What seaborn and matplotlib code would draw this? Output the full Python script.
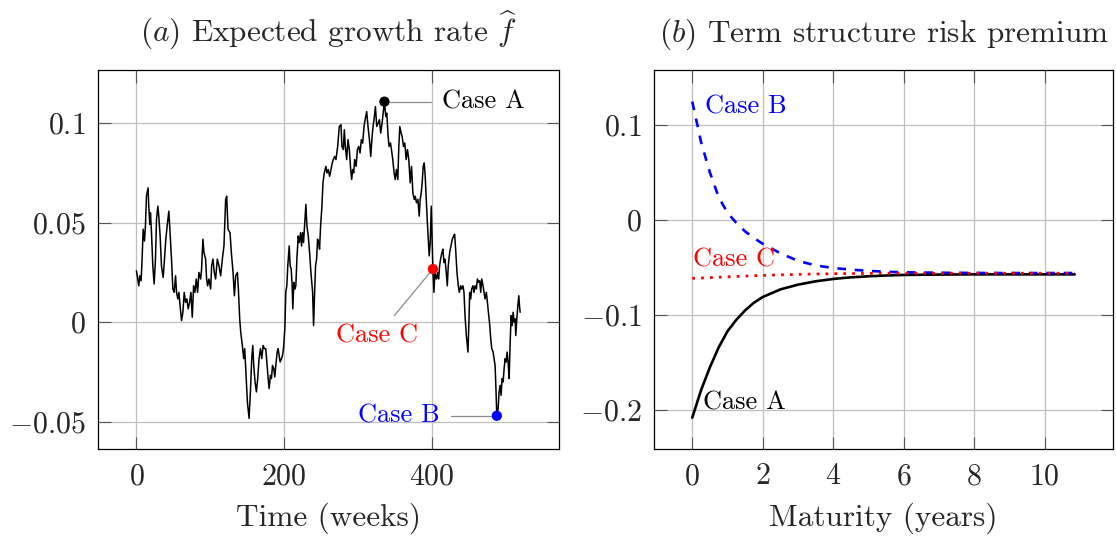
import numpy as np
import pandas as pd
import matplotlib
matplotlib.use("Agg")
import matplotlib.pyplot as plt
import seaborn as sns

# ---------------- data ----------------
weeks = [0.0, 3.2, 4.5, 6.3, 7.7, 9.1, 10.9, 12.2, 13.6, 15.8, 16.7, 18.1, 19.0, 20.4, 22.2, 24.0,
         25.8, 27.2, 29.0, 30.3, 32.1, 33.9, 36.2, 38.0, 39.8, 41.6, 43.9, 45.3, 47.5, 49.3, 51.1,
         53.0, 54.3, 56.1, 57.5, 59.3, 61.1, 62.9, 64.7, 66.5, 68.3, 70.1, 72.0, 73.8, 75.6, 77.4,
         79.2, 81.0, 82.8, 84.6, 86.9, 88.2, 90.0, 91.4, 93.7, 95.0, 96.4, 98.2, 100.5, 101.8,
         103.6, 105.4, 107.2, 109.5, 111.8, 114.0, 116.3, 118.5, 120.8, 122.2, 124.0, 126.7,
         128.5, 130.8, 132.6, 134.4, 136.7, 138.0, 139.8, 141.2, 143.4, 145.2, 146.6, 148.4,
         150.2, 152.5, 154.3, 156.1, 157.5, 158.8, 160.6, 162.4, 164.2, 166.0, 167.9, 169.7,
         171.5, 173.3, 175.1, 176.9, 178.3, 179.6, 181.4, 182.8, 184.2, 185.9, 187.3, 188.7,
         190.5, 191.8, 193.2, 194.5, 196.4, 197.7, 199.1, 200.9, 202.2, 203.6, 204.9, 206.8,
         208.1, 209.5, 210.8, 211.7, 213.1, 214.4, 215.8, 217.2, 219.0, 220.4, 222.2, 223.5,
         224.9, 226.2, 227.6, 229.4, 230.8, 232.6, 234.4, 236.2, 238.5, 239.8, 241.2, 242.5,
         243.9, 245.2, 246.6, 247.9, 249.3, 251.1, 252.5, 254.3, 256.5, 257.9, 259.7, 261.5,
         263.3, 265.1, 266.5, 268.3, 270.1, 272.4, 274.6, 276.9, 278.2, 280.1, 281.4, 282.8,
         284.6, 286.4, 288.2, 290.0, 291.4, 292.7, 294.1, 295.4, 297.3, 299.1, 300.9, 302.7,
         304.5, 306.3, 308.1, 309.9, 311.7, 313.5, 315.4, 317.2, 319.0, 320.3, 322.1, 323.5,
         325.3, 327.1, 328.9, 330.7, 332.5, 334.4, 335.7, 337.5, 338.9, 340.7, 342.0, 343.9,
         345.2, 347.0, 348.8, 350.2, 352.0, 353.8, 355.2, 356.5, 358.3, 359.7, 361.5, 363.3,
         365.1, 366.9, 368.7, 370.6, 372.4, 374.2, 376.0, 377.3, 379.2, 381.0, 382.8, 384.1,
         385.5, 386.8, 388.2, 389.6, 390.9, 392.3, 393.6, 395.0, 396.3, 397.7, 399.1, 400.0,
         401.3, 402.7, 404.0, 405.9, 407.7, 409.0, 410.4, 411.7, 413.5, 414.9, 416.3, 417.6,
         419.4, 420.8, 422.1, 424.0, 425.8, 427.6, 429.4, 430.7, 432.1, 433.9, 435.7, 437.1,
         438.9, 440.2, 442.0, 443.4, 444.8, 446.6, 448.8, 450.2, 451.1, 452.5, 453.8, 455.6,
         457.0, 458.3, 460.2, 461.5, 463.3, 464.7, 466.0, 467.4, 469.2, 470.6, 471.9, 473.7,
         475.1, 476.4, 478.3, 479.6, 481.0, 482.8, 484.1, 485.5, 486.8, 487.8, 489.6, 490.9,
         492.3, 493.6, 495.0, 496.4, 497.7, 499.1, 500.4, 501.8, 503.1, 504.5, 505.9, 507.2,
         508.6, 509.9, 511.3, 512.6, 513.5, 514.9, 516.3, 517.6, 518.5, 519.4]

growth = [0.0258, 0.0183, 0.0233, 0.0208, 0.0317, 0.0467, 0.0408, 0.0483, 0.0633, 0.0675, 0.0583,
          0.0492, 0.0550, 0.0450, 0.0283, 0.0192, 0.0317, 0.0517, 0.0583, 0.0533, 0.0433, 0.0283,
          0.0225, 0.0317, 0.0417, 0.0483, 0.0558, 0.0467, 0.0317, 0.0167, 0.0150, 0.0233, 0.0150,
          0.0117, 0.0150, 0.0075, 0.0008, 0.0050, 0.0150, 0.0100, 0.0117, 0.0067, 0.0100, 0.0150,
          0.0025, 0.0183, 0.0150, 0.0217, 0.0150, 0.0250, 0.0217, 0.0267, 0.0417, 0.0350, 0.0317,
          0.0217, 0.0183, 0.0217, 0.0167, 0.0283, 0.0317, 0.0250, 0.0217, 0.0317, 0.0283, 0.0233,
          0.0317, 0.0383, 0.0617, 0.0633, 0.0467, 0.0450, 0.0350, 0.0250, 0.0133, 0.0233, 0.0250,
          0.0167, 0.0017, -0.0050, -0.0117, -0.0183, -0.0133, -0.0267, -0.0400, -0.0483, -0.0350,
          -0.0183, -0.0117, -0.0217, -0.0300, -0.0350, -0.0283, -0.0183, -0.0133, -0.0183,
          -0.0117, -0.0133, -0.0133, -0.0217, -0.0283, -0.0333, -0.0267, -0.0283, -0.0217,
          -0.0233, -0.0275, -0.0217, -0.0150, -0.0133, -0.0167, -0.0200, -0.0183, -0.0167,
          -0.0133, -0.0033, 0.0150, 0.0183, 0.0283, 0.0383, 0.0283, 0.0267, 0.0183, 0.0067,
          0.0200, 0.0167, 0.0183, 0.0317, 0.0433, 0.0400, 0.0450, 0.0383, 0.0450, 0.0400, 0.0483,
          0.0592, 0.0483, 0.0433, 0.0350, 0.0250, 0.0150, -0.0017, 0.0150, 0.0283, 0.0317, 0.0417,
          0.0400, 0.0367, 0.0483, 0.0583, 0.0700, 0.0750, 0.0783, 0.0750, 0.0767, 0.0733, 0.0767,
          0.0800, 0.0817, 0.0833, 0.0817, 0.0883, 0.0983, 0.0992, 0.0883, 0.0867, 0.0967, 0.0883,
          0.0817, 0.0917, 0.0867, 0.0767, 0.0717, 0.0767, 0.0750, 0.0817, 0.0783, 0.0867, 0.0883,
          0.0850, 0.0917, 0.0900, 0.0983, 0.1025, 0.1058, 0.0983, 0.0917, 0.0833, 0.0933, 0.0983,
          0.1033, 0.1083, 0.0983, 0.1000, 0.1017, 0.0950, 0.1000, 0.1067, 0.1108, 0.1033, 0.1050,
          0.0933, 0.0883, 0.0900, 0.0867, 0.0817, 0.0750, 0.0717, 0.0767, 0.0717, 0.0883, 0.0983,
          0.0950, 0.0933, 0.0883, 0.0900, 0.0817, 0.0867, 0.0817, 0.0700, 0.0783, 0.0650, 0.0617,
          0.0633, 0.0600, 0.0617, 0.0533, 0.0617, 0.0650, 0.0700, 0.0783, 0.0800, 0.0733, 0.0617,
          0.0517, 0.0417, 0.0333, 0.0400, 0.0583, 0.0450, 0.0267, 0.0150, 0.0250, 0.0217, 0.0250,
          0.0217, 0.0283, 0.0317, 0.0350, 0.0367, 0.0300, 0.0317, 0.0250, 0.0183, 0.0283, 0.0350,
          0.0383, 0.0417, 0.0433, 0.0442, 0.0367, 0.0250, 0.0183, 0.0150, 0.0183, 0.0167, 0.0183,
          0.0150, 0.0033, -0.0067, -0.0150, 0.0017, 0.0150, 0.0117, 0.0167, 0.0183, 0.0150, 0.0183,
          0.0167, 0.0217, 0.0200, 0.0208, 0.0150, 0.0217, 0.0183, 0.0150, 0.0117, 0.0150, 0.0100,
          0.0050, -0.0017, -0.0083, -0.0133, -0.0150, -0.0183, -0.0217, -0.0350, -0.0470, -0.0433,
          -0.0350, -0.0317, -0.0367, -0.0283, -0.0300, -0.0233, -0.0183, -0.0200, -0.0150,
          -0.0200, -0.0283, -0.0100, 0.0033, -0.0017, 0.0050, 0.0000, 0.0017, -0.0067, 0.0017,
          0.0083, 0.0133, 0.0083, 0.0050]

case_names = ["Case A", "Case B", "Case C"]
case_weeks = [335.7, 487.8, 401.3]
case_colors = ["black", "blue", "red"]

maturity = [0, 0.25, 0.5, 0.75, 1, 1.25, 1.5, 1.75, 2, 2.5, 3, 3.5, 4, 4.5, 5, 5.5, 6, 7, 8, 9,
            10, 10.85]
premium_a = [-0.208, -0.179, -0.155, -0.134, -0.117, -0.105, -0.095, -0.087, -0.081, -0.073,
             -0.068, -0.0645, -0.062, -0.0603, -0.0592, -0.0584, -0.0578, -0.0574, -0.0572,
             -0.0572, -0.0572, -0.0572]
premium_b = [0.1246, 0.082, 0.050, 0.024, 0.0075, -0.003, -0.012, -0.019, -0.025, -0.035, -0.043,
             -0.0478, -0.0505, -0.0522, -0.0535, -0.0545, -0.0550, -0.0555, -0.0557, -0.0558,
             -0.0558, -0.0558]
premium_c = [-0.0614, -0.0610, -0.0606, -0.0602, -0.0598, -0.0594, -0.0590, -0.0586, -0.0583,
             -0.0577, -0.0572, -0.0568, -0.0565, -0.0563, -0.0562, -0.0561, -0.0561, -0.0560,
             -0.0560, -0.0560, -0.0560, -0.0560]

left_xticks = [0, 200, 400]
left_yticks = [-0.05, 0, 0.05, 0.1]
left_yticklabels = ["$-0.05$", "$0$", "$0.05$", "$0.1$"]
right_xticks = [0, 2, 4, 6, 8, 10]
right_yticks = [-0.2, -0.1, 0, 0.1]
right_yticklabels = ["$-0.2$", "$-0.1$", "$0$", "$0.1$"]

# ---------------- style ----------------
sns.set_theme(style="white")
plt.rcParams.update({
    "font.family": ["cmr10", "DejaVu Serif"],
    "mathtext.fontset": "cm",
    "axes.formatter.use_mathtext": True,
    "axes.unicode_minus": True,
    "axes.edgecolor": "black",
    "axes.linewidth": 0.9,
})

FS_TICK = 21.5
FS = 22.5
FS_ANN = 19
GRID = "#bfbfbf"

fig = plt.figure(figsize=(11.16, 5.36), dpi=100)
ax1 = fig.add_axes([98 / 1116, 1 - 449 / 536, (559 - 98) / 1116, (449 - 70) / 536])
ax2 = fig.add_axes([654 / 1116, 1 - 449 / 536, (1113 - 654) / 1116, (449 - 70) / 536])


def style_axes(ax):
    ax.grid(True, color=GRID, linewidth=0.9)
    ax.set_axisbelow(True)
    ax.tick_params(direction="in", length=9, width=0.8, color="#555555",
                   top=True, right=True, bottom=True, left=True,
                   labelsize=FS_TICK, pad=9)
    ax.tick_params(axis="x", pad=10)
    for s in ax.spines.values():
        s.set_color("black")
        s.set_linewidth(0.9)
        s.set_visible(True)


# ---------------- panel (a) ----------------
df_a = pd.DataFrame({"week": weeks, "growth": growth})
sns.lineplot(data=df_a, x="week", y="growth", ax=ax1, color="black", linewidth=1.1,
             estimator=None, sort=False)

case_vals = [growth[weeks.index(w)] for w in case_weeks]
df_cases = pd.DataFrame({"week": case_weeks, "growth": case_vals, "case": case_names})

# connector lines
ax1.plot([case_weeks[0], 399], [case_vals[0], case_vals[0]], color="#8c8c8c", lw=0.9, zorder=3)
ax1.plot([426, case_weeks[1]], [case_vals[1], case_vals[1]], color="#8c8c8c", lw=0.9, zorder=3)
ax1.plot([349, case_weeks[2]], [0.0033, case_vals[2]], color="#8c8c8c", lw=0.9, zorder=3)

sns.scatterplot(data=df_cases, x="week", y="growth", hue="case",
                palette=dict(zip(case_names, case_colors)),
                s=55, linewidth=0, ax=ax1, legend=False, zorder=5)

ax1.text(414, case_vals[0], "Case A", color="black", fontsize=FS_ANN, va="center", ha="left")
ax1.text(410, case_vals[1], "Case B", color="blue", fontsize=FS_ANN, va="center", ha="right")
ax1.text(326, -0.0067, "Case C", color="red", fontsize=FS_ANN, va="center", ha="center")

style_axes(ax1)
ax1.set_xlim(-52, 572)
ax1.set_ylim(-0.0637, 0.1267)
ax1.set_xticks(left_xticks)
ax1.set_xticklabels([f"${t}$" for t in left_xticks])
ax1.set_yticks(left_yticks)
ax1.set_yticklabels(left_yticklabels)
ax1.set_xlabel("Time (weeks)", fontsize=FS, labelpad=9)
ax1.set_ylabel("")
ax1.set_title(r"$(a)$ Expected growth rate $\widehat{f}$", fontsize=FS, pad=20)

# ---------------- panel (b) ----------------
df_b = pd.DataFrame({"maturity": maturity, "A": premium_a, "B": premium_b, "C": premium_c})
sns.lineplot(data=df_b, x="maturity", y="A", ax=ax2, color="black", linewidth=1.9,
             estimator=None)
sns.lineplot(data=df_b, x="maturity", y="B", ax=ax2, color="blue", linewidth=1.9,
             estimator=None, linestyle=(0, (3.3, 3.3)))
sns.lineplot(data=df_b, x="maturity", y="C", ax=ax2, color="red", linewidth=2.0,
             estimator=None, linestyle=(0, (1.0, 2.2)))

ax2.text(0.36, 0.1195, "Case B", color="blue", fontsize=FS_ANN, va="center", ha="left")
ax2.text(0.02, -0.042, "Case C", color="red", fontsize=FS_ANN, va="center", ha="left")
ax2.text(0.31, -0.1917, "Case A", color="black", fontsize=FS_ANN, va="center", ha="left")

style_axes(ax2)
ax2.set_xlim(-1.085, 11.935)
ax2.set_ylim(-0.2409, 0.1578)
ax2.set_xticks(right_xticks)
ax2.set_xticklabels([f"${t}$" for t in right_xticks])
ax2.set_yticks(right_yticks)
ax2.set_yticklabels(right_yticklabels)
ax2.set_xlabel("Maturity (years)", fontsize=FS, labelpad=9)
ax2.set_ylabel("")
ax2.set_title(r"$(b)$ Term structure risk premium", fontsize=FS, pad=20)

fig.savefig("out.png", dpi=100)
